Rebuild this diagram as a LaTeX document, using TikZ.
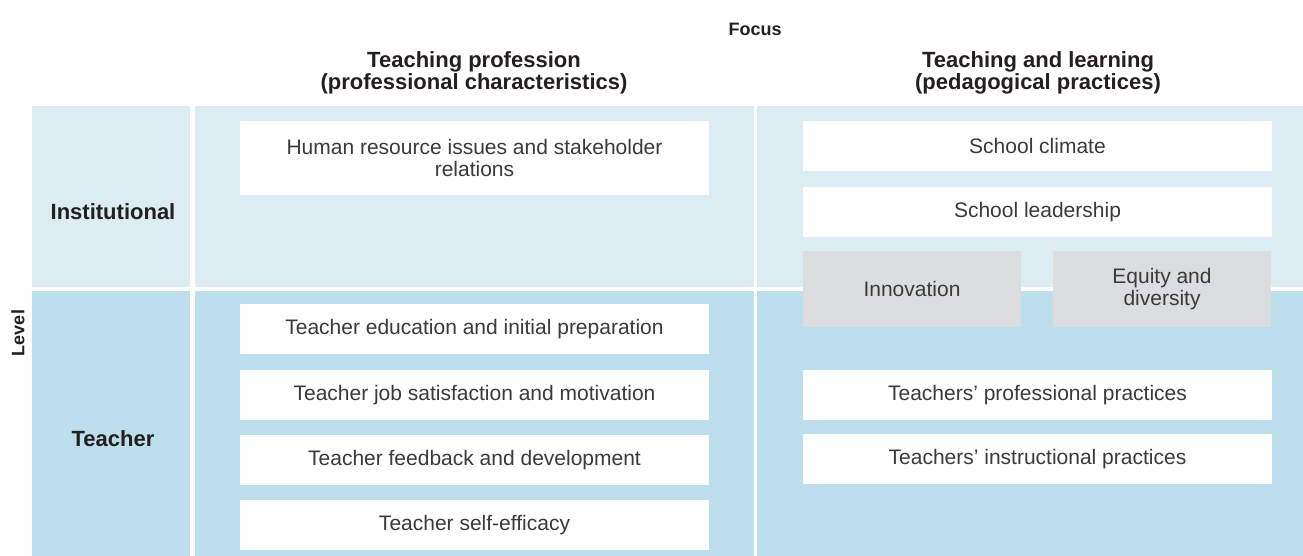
\documentclass[tikz,border=0pt]{standalone}
\usepackage{fontspec}
\setmainfont{Liberation Sans}
\usepackage{tikz}
\definecolor{instblue}{HTML}{DCECF3}
\definecolor{teachblue}{HTML}{BDDEEC}
\definecolor{boxgrey}{HTML}{DCDDDF}
\definecolor{inktext}{HTML}{3A3A3A}
\definecolor{inkbold}{HTML}{231F20}

\begin{document}
\begin{tikzpicture}[x=1pt,y=-1pt,
    item/.style={fill=white, inner sep=0pt, outer sep=0pt, text=inktext,
      minimum width=469pt, minimum height=50pt, align=center,
      font=\fontsize{21}{22}\selectfont},
    greyitem/.style={item, fill=boxgrey, minimum width=218pt,
      minimum height=76pt},
    head/.style={text=inkbold, align=center,
      font=\fontsize{22}{20}\selectfont\bfseries},
    small/.style={text=inkbold, font=\fontsize{18}{18}\selectfont\bfseries}]
    \useasboundingbox (0,0) rectangle (1303,556);
    % cells of the grid
    \fill [instblue] (32,106) rectangle (190,287);
    \fill [instblue] (195,106) rectangle (754,287);
    \fill [instblue] (757,106) rectangle (1303,287);
    \fill [teachblue] (32,291) rectangle (190,556);
    \fill [teachblue] (195,291) rectangle (754,556);
    \fill [teachblue] (757,291) rectangle (1303,556);
    % headings
    \node [small] (focus) at (755,29) {Focus};
    \node [small, rotate=90] (level) at (18,333) {Level};
    \node [head] (prof) at (474,73) {Teaching profession\\(professional characteristics)};
    \node [head] (peda) at (1038,73) {Teaching and learning\\(pedagogical practices)};
    \node [head] (inst) at (113,212) {Institutional};
    \node [head] (teach) at (113,439) {Teacher};
    % teaching profession
    \node [item, minimum height=74pt] (hr) at (474.5,158)
      {Human resource issues and stakeholder\\relations};
    \node [item] (educ) at (474.5,329) {Teacher education and initial preparation};
    \node [item] (satis) at (474.5,395) {Teacher job satisfaction and motivation};
    \node [item] (feed) at (474.5,460) {Teacher feedback and development};
    \node [item] (eff) at (474.5,525) {Teacher self-efficacy};
    % teaching and learning
    \node [item] (climate) at (1037.5,146) {School climate};
    \node [item] (lead) at (1037.5,212) {School leadership};
    \node [greyitem] (innov) at (912,289) {Innovation};
    \node [greyitem] (equity) at (1162,289) {Equity and\\diversity};
    \node [item] (profprac) at (1037.5,395) {Teachers’ professional practices};
    \node [item] (instrprac) at (1037.5,459) {Teachers’ instructional practices};
  \end{tikzpicture}
\end{document}
